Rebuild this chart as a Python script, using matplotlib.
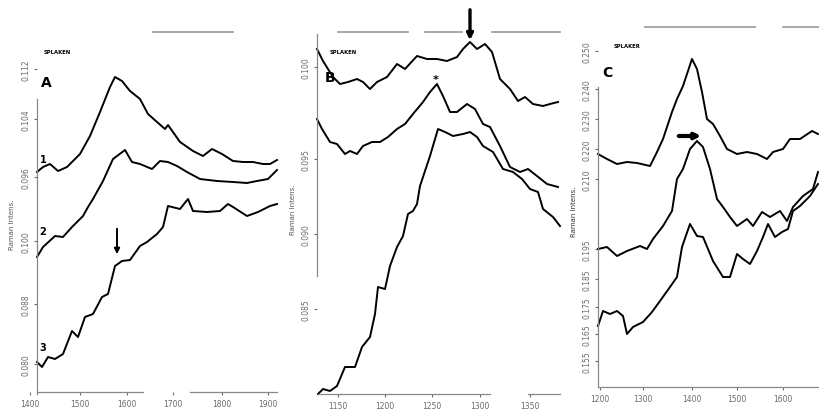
import matplotlib
matplotlib.use("Agg")
import matplotlib.pyplot as plt

# lecturas del espectro (columna, fila) tomadas de la figura escaneada
a1_x = [37, 43, 50, 58, 67, 80, 90, 100, 110, 115, 122, 130, 140, 148, 157, 165, 168, 180, 193, 203, 212, 222, 233, 243, 253, 263, 270, 277]
a1_y = [173, 168, 165, 172, 168, 155, 137, 113, 88, 78, 82, 92, 100, 115, 123, 130, 126, 143, 152, 157, 150, 155, 162, 163, 163, 165, 165, 161]
a2_x = [37, 43, 55, 63, 72, 83, 88, 93, 103, 113, 125, 132, 140, 152, 160, 168, 177, 187, 200, 217, 233, 247, 257, 268, 277]
a2_y = [258, 248, 237, 238, 228, 217, 208, 200, 182, 160, 151, 163, 165, 170, 162, 163, 167, 173, 180, 182, 183, 184, 182, 180, 171]
a3_x = [37, 42, 48, 55, 63, 72, 78, 85, 93, 102, 108, 115, 122, 130, 140, 147, 157, 163, 168, 180, 188, 193, 207, 220, 228, 233, 247, 258, 270, 277]
a3_y = [363, 368, 358, 360, 355, 332, 338, 318, 315, 298, 295, 267, 262, 261, 247, 243, 235, 228, 207, 210, 200, 212, 213, 212, 205, 208, 217, 213, 207, 205]

b1_x = [317, 323, 333, 340, 348, 357, 363, 370, 377, 387, 397, 405, 417, 427, 437, 447, 457, 463, 470, 477, 485, 492, 500, 510, 518, 525, 533, 543, 550, 558]
b1_y = [50, 62, 78, 85, 83, 80, 83, 90, 83, 78, 65, 70, 57, 60, 60, 62, 58, 50, 43, 50, 45, 53, 80, 90, 102, 98, 105, 107, 105, 103]
b2_x = [317, 322, 330, 337, 345, 350, 357, 363, 372, 380, 388, 397, 405, 413, 423, 430, 437, 443, 450, 457, 467, 475, 483, 490, 500, 510, 520, 528, 537, 547, 558]
b2_y = [120, 130, 143, 145, 155, 152, 155, 147, 143, 143, 138, 130, 125, 115, 103, 93, 85, 97, 113, 113, 105, 110, 125, 128, 147, 168, 173, 170, 177, 185, 188]
b3_x = [318, 323, 330, 337, 345, 355, 362, 370, 375, 378, 385, 390, 397, 403, 408, 413, 417, 420, 430, 438, 445, 453, 463, 470, 477, 483, 493, 503, 513, 522, 530, 538, 543, 553, 560]
b3_y = [395, 390, 392, 387, 368, 368, 348, 338, 315, 288, 290, 267, 248, 237, 215, 212, 205, 187, 157, 130, 133, 137, 135, 133, 138, 147, 153, 170, 173, 180, 190, 193, 210, 218, 227]

c1_x = [598, 607, 617, 627, 637, 650, 657, 663, 672, 677, 683, 692, 697, 702, 707, 713, 720, 727, 737, 747, 757, 767, 773, 783, 790, 800, 812, 818]
c1_y = [155, 160, 165, 163, 164, 167, 153, 140, 113, 100, 87, 60, 70, 93, 120, 125, 137, 150, 155, 153, 155, 160, 153, 150, 140, 140, 132, 135]
c2_x = [598, 607, 617, 627, 640, 647, 653, 663, 672, 677, 683, 690, 697, 703, 710, 717, 723, 730, 737, 747, 753, 762, 770, 780, 787, 793, 803, 813, 818]
c2_y = [250, 248, 257, 252, 247, 250, 240, 227, 212, 180, 170, 150, 142, 148, 170, 200, 208, 218, 227, 220, 227, 213, 218, 212, 222, 208, 197, 190, 173]
c3_x = [598, 603, 610, 617, 623, 627, 633, 643, 652, 660, 670, 677, 682, 690, 697, 703, 713, 723, 730, 737, 743, 750, 757, 763, 768, 775, 782, 788, 793, 800, 810, 818]
c3_y = [327, 312, 315, 312, 317, 335, 328, 323, 313, 302, 288, 278, 248, 225, 237, 238, 262, 278, 278, 255, 260, 265, 252, 238, 225, 238, 233, 230, 212, 207, 197, 185]

# etiquetas de los ejes
a_xticks = [30, 80, 127, 173, 222, 268]
a_xlabels = ["1400", "1500", "1600", "1700", "1800", "1900"]
a_yticks = [70, 120, 178, 242, 305, 365]
a_ylabels = ["0.112", "0.104", "0.096", "0.100", "0.088", "0.080"]

b_xticks = [338, 385, 432, 480, 530]
b_xlabels = ["1150", "1200", "1250", "1300", "1350"]
b_yticks = [68, 160, 235, 310]
b_ylabels = ["0.100", "0.095", "0.090", "0.085"]

c_xticks = [600, 643, 692, 737, 783]
c_xlabels = ["1200", "1300", "1400", "1500", "1600"]
c_yticks = [52, 90, 120, 150, 180, 250, 280, 308, 335, 362]
c_ylabels = ["0.250", "0.240", "0.230", "0.220", "0.210",
             "0.195", "0.185", "0.175", "0.165", "0.155"]

W, H = 819, 410
fig = plt.figure(figsize=(8.19, 4.10), dpi=100)
gray = "#6a6a6a"


def panel(x_lo, x_hi, spine_x, ybounds, spine_y, xbounds, xticks, xlabels, yticks, ylabels):
    ax = fig.add_axes([x_lo / W, 10 / H, (x_hi - x_lo) / W, 395 / H])
    ax.set_xlim(x_lo, x_hi)
    ax.set_ylim(400, 5)
    ax.patch.set_alpha(0)
    ax.spines["top"].set_visible(False)
    ax.spines["right"].set_visible(False)
    ax.spines["left"].set_position(("data", spine_x))
    ax.spines["left"].set_bounds(*ybounds)
    ax.spines["bottom"].set_position(("data", spine_y))
    ax.spines["bottom"].set_bounds(*xbounds)
    for s in ["left", "bottom"]:
        ax.spines[s].set_color("#888888")
        ax.spines[s].set_linewidth(0.9)
    ax.set_xticks(xticks, xlabels)
    ax.set_yticks(yticks, ylabels)
    ax.tick_params(axis="x", labelsize=5.5, colors=gray, length=2, pad=3)
    ax.tick_params(axis="y", labelsize=5.5, colors=gray, length=2, pad=3, labelrotation=90)
    for lab in ax.get_yticklabels():
        lab.set_va("center")
    return ax


lw = 1.4

# --- panel A ---
axA = panel(20, 285, 37, (395, 100), 393, (37, 143), a_xticks, a_xlabels, a_yticks, a_ylabels)
axA.plot(a1_x, a1_y, color="k", lw=lw)
axA.plot(a2_x, a2_y, color="k", lw=lw)
axA.plot(a3_x, a3_y, color="k", lw=lw)
axA.plot([190, 277], [393, 393], color="#888888", lw=0.9)
axA.plot([153, 233], [33, 33], color="#999999", lw=1.2, clip_on=False)
axA.text(46, 83, "A", fontsize=10, fontweight="bold", ha="center", va="center")
axA.text(57, 52, "SPLAKEN", fontsize=3.8, fontweight="bold", ha="center", va="center")
for lab, yy in zip(["1", "2", "3"], [160, 232, 348]):
    axA.text(43, yy, lab, fontsize=7, fontweight="bold", ha="center", va="center")
axA.annotate("", xy=(117, 258), xytext=(117, 227),
             arrowprops=dict(arrowstyle="-|>", color="k", lw=1.4, mutation_scale=8))

# --- panel B ---
axB = panel(300, 565, 317, (277, 35), 395, (318, 490), b_xticks, b_xlabels, b_yticks, b_ylabels)
axB.plot(b1_x, b1_y, color="k", lw=lw)
axB.plot(b2_x, b2_y, color="k", lw=lw)
axB.plot(b3_x, b3_y, color="k", lw=lw)
axB.plot([528, 560], [395, 395], color="#888888", lw=0.9)
for xa, xb in [(338, 408), (425, 462), (492, 560)]:
    axB.plot([xa, xb], [33, 33], color="#999999", lw=1.2, clip_on=False)
axB.text(330, 78, "B", fontsize=10, fontweight="bold", ha="center", va="center")
axB.text(343, 52, "SPLAKEN", fontsize=3.8, fontweight="bold", ha="center", va="center")
axB.text(436, 80, "*", fontsize=8, fontweight="bold", ha="center", va="center")
axB.annotate("", xy=(470, 44), xytext=(470, 8),
             arrowprops=dict(arrowstyle="-|>", color="k", lw=2.4, mutation_scale=9),
             annotation_clip=False)

# --- panel C ---
axC = panel(585, 819, 598, (388, 88), 388, (598, 819), c_xticks, c_xlabels, c_yticks, c_ylabels)
axC.plot(c1_x, c1_y, color="k", lw=lw)
axC.plot(c2_x, c2_y, color="k", lw=lw)
axC.plot(c3_x, c3_y, color="k", lw=lw)
for xa, xb in [(645, 755), (783, 819)]:
    axC.plot([xa, xb], [28, 28], color="#999999", lw=1.2, clip_on=False)
axC.text(607, 73, "C", fontsize=10, fontweight="bold", ha="center", va="center")
axC.text(627, 47, "SPLAKER", fontsize=3.8, fontweight="bold", ha="center", va="center")
axC.annotate("", xy=(704, 137), xytext=(676, 137),
             arrowprops=dict(arrowstyle="-|>", color="k", lw=3, mutation_scale=8))

# titulos de eje verticales
fig.text(12 / W, 1 - 225 / H, "Raman Intens.", rotation=90, fontsize=5, color="#555555",
         ha="center", va="center")
fig.text(293 / W, 1 - 210 / H, "Raman Intens.", rotation=90, fontsize=5, color="#555555",
         ha="center", va="center")
fig.text(574 / W, 1 - 212 / H, "Raman Intens.", rotation=90, fontsize=5, color="#333333",
         ha="center", va="center")

fig.savefig("out.png", dpi=100)
